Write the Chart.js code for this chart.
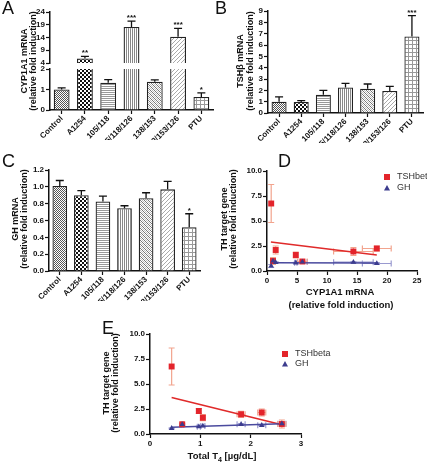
<!DOCTYPE html>
<html>
<head>
<meta charset="utf-8">
<script src="https://cdn.jsdelivr.net/npm/chart.js@4.4.1/dist/chart.umd.min.js"></script>
<style>
  html, body { margin: 0; padding: 0; background: #fff; }
  #page { position: relative; width: 427px; height: 464px; overflow: hidden; font-family: "Liberation Sans", Arial, sans-serif; color: #111; }
  #page canvas { position: absolute; left: 0; top: 0; }
  .lbl { position: absolute; white-space: nowrap; line-height: 1; z-index: 5; }
  .letter { font-size: 18px; }
  .ytitle { font-size: 9px; font-weight: bold; transform: translate(-50%, -50%) rotate(-90deg); }
  .xtitle { font-size: 9.5px; font-weight: bold; transform: translate(-50%, -50%); }
</style>
</head>
<body>
<div id="page">
  <canvas id="chartA1" width="427" height="464"></canvas>
  <canvas id="chartA2" width="427" height="464"></canvas>
  <canvas id="chartB" width="427" height="464"></canvas>
  <canvas id="chartC" width="427" height="464"></canvas>
  <canvas id="chartD" width="427" height="464"></canvas>
  <canvas id="chartE" width="427" height="464"></canvas>

  <div class="lbl letter" style="left:2px;top:-1px">A</div>
  <div class="lbl letter" style="left:215px;top:-1px">B</div>
  <div class="lbl letter" style="left:2px;top:152px">C</div>
  <div class="lbl letter" style="left:278px;top:152px">D</div>
  <div class="lbl letter" style="left:102px;top:319px">E</div>

  <div class="lbl ytitle" style="left:24px;top:61px">CYP1A1 mRNA</div>
  <div class="lbl ytitle" style="left:33px;top:61px">(relative fold induction)</div>
  <div class="lbl ytitle" style="left:240px;top:61px">TSHβ mRNA</div>
  <div class="lbl ytitle" style="left:250px;top:61px">(relative fold induction)</div>
  <div class="lbl ytitle" style="left:15px;top:219px">GH mRNA</div>
  <div class="lbl ytitle" style="left:24px;top:219px">(relative fold induction)</div>
  <div class="lbl ytitle" style="left:224px;top:219px">TH target gene</div>
  <div class="lbl ytitle" style="left:233px;top:219px">(relative fold induction)</div>
  <div class="lbl ytitle" style="left:106px;top:383px">TH target gene</div>
  <div class="lbl ytitle" style="left:115px;top:383px">(relative fold induction)</div>

  <div class="lbl xtitle" style="left:340px;top:292px">CYP1A1 mRNA</div>
  <div class="lbl xtitle" style="left:341px;top:305px">(relative fold induction)</div>
  <div class="lbl xtitle" style="left:222px;top:457px">Total T<sub style="font-size:7px">4</sub> [µg/dL]</div>
</div>

<script>
// treatment groups (bar panels A-C)
var groups = ['Control', 'A1254', '105/118', '105/118/126', '138/153', '138/153/126', 'PTU'];

var cypMean = [1.0, 5.8, 1.33, 18.1, 1.38, 14.3, 0.64];
var cypErr = [0.08, 0.8, 0.15, 2.3, 0.09, 3.3, 0.2];
var cypStars = ['', '**', '', '***', '', '***', '*'];
var cypTicksTop = [4, 9, 14, 19, 24];
var cypTicksBottom = [0, 1, 2];

var tshMean = [1.0, 0.97, 1.62, 2.25, 2.15, 1.94, 6.76];
var tshErr = [0.42, 0.12, 0.37, 0.36, 0.41, 0.41, 1.84];
var tshStars = ['', '', '', '', '', '', '***'];
var tshTicks = [0, 1, 2, 3, 4, 5, 6, 7, 8, 9];

var ghMean = [1.01, 0.9, 0.825, 0.745, 0.865, 0.97, 0.52];
var ghErr = [0.065, 0.055, 0.065, 0.03, 0.065, 0.095, 0.16];
var ghStars = ['', '', '', '', '', '', '*'];
var ghTicks = [0, 0.2, 0.4, 0.6, 0.8, 1.0, 1.2];

// panel D: target genes vs CYP1A1
var dCyp = [1.0, 0.7, 1.45, 4.8, 5.9, 14.4, 18.3];
var dCypErr = [0.1, 0.15, 0.15, 0.2, 0.8, 3.3, 2.4];
var dTsh = [1.0, 6.75, 2.1, 1.6, 0.95, 1.95, 2.25];
var dTshErr = [0.35, 1.9, 0.4, 0.3, 0.12, 0.4, 0.25];
var dGh = [1.0, 0.5, 0.85, 0.82, 0.9, 0.88, 0.75];
var dGhErr = [0.07, 0.15, 0.06, 0.05, 0.05, 0.06, 0.1];
var dTshFit = [[0.65, 2.9], [18.3, 1.6]];
var dGhFit = [[0.65, 0.82], [18.3, 0.8]];
var dTicksX = [0, 5, 10, 15, 20, 25];
var dTicksY = [0, 2.5, 5, 7.5, 10];

// panel E: target genes vs total T4
var eT4 = [0.43, 0.64, 0.97, 1.05, 1.81, 2.22, 2.62];
var eT4Err = [0.01, 0.02, 0.03, 0.04, 0.08, 0.08, 0.08];
var eTsh = [6.75, 0.97, 2.3, 1.63, 1.97, 2.15, 1.0];
var eTshErr = [1.85, 0.1, 0.25, 0.3, 0.3, 0.35, 0.4];
var eGh = [0.57, 0.95, 0.73, 0.8, 0.97, 0.87, 1.03];
var eGhErr = [0.05, 0.05, 0.05, 0.06, 0.06, 0.05, 0.1];
var eTshFit = [[0.43, 3.65], [2.6, 0.95]];
var eGhFit = [[0.43, 0.68], [2.62, 1.02]];
var eTicksX = [0, 1, 2, 3];
var eTicksY = [0, 2.5, 5, 7.5, 10];

var FONT = '"Liberation Sans", Arial, sans-serif';
var W = 427, H = 464, AXW = 40, AXH = 30;
var RED = '#e3242b', RED_LIGHT = '#f2a48e', BLUE = '#3c3c8e', BLUE_LIGHT = '#9a9ad0';

Chart.defaults.font.family = FONT;
Chart.defaults.color = '#111';
Chart.defaults.animation = false;

function makePattern(kind) {
    var c = document.createElement('canvas');
    var s = 4;
    c.width = s; c.height = s;
    var g = c.getContext('2d');
    g.fillStyle = '#fff';
    g.fillRect(0, 0, s, s);
    if (kind === 'dots') {
        g.fillStyle = '#555';
        g.fillRect(0, 0, 1, 1); g.fillRect(2, 0, 1, 1); g.fillRect(1, 1, 1, 1); g.fillRect(3, 1, 1, 1);
        g.fillRect(0, 2, 1, 1); g.fillRect(2, 2, 1, 1); g.fillRect(1, 3, 1, 1); g.fillRect(3, 3, 1, 1);
    } else if (kind === 'checker') {
        g.fillStyle = '#111';
        g.fillRect(0, 0, 2, 2); g.fillRect(2, 2, 2, 2);
    } else if (kind === 'hlines') {
        g.fillStyle = '#999';
        g.fillRect(0, 0, s, 1); g.fillRect(0, 2, s, 1);
    } else if (kind === 'vlines') {
        g.fillStyle = '#888';
        g.fillRect(0, 0, 1, s); g.fillRect(2, 0, 1, s);
    } else if (kind === 'diag') {
        g.fillStyle = '#777';
        for (var i = 0; i < s; i++) g.fillRect(i, i, 1, 1);
        g.fillStyle = '#bbb';
        g.fillRect(2, 0, 1, 1); g.fillRect(3, 1, 1, 1); g.fillRect(0, 2, 1, 1); g.fillRect(1, 3, 1, 1);
    } else if (kind === 'diagLight') {
        g.fillStyle = '#aaa';
        for (var j = 0; j < s; j++) g.fillRect(s - 1 - j, j, 1, 1);
    } else if (kind === 'grid') {
        g.fillStyle = '#999';
        g.fillRect(0, 0, s, 1); g.fillRect(0, 0, 1, s);
    }
    return g.createPattern(c, 'repeat');
}

var barFills = ['dots', 'checker', 'hlines', 'vlines', 'diag', 'diagLight', 'grid'].map(makePattern);

// error bars (bars: upward only; scatter: both directions) and significance stars
var errorBarPlugin = {
    id: 'errorBars',
    beforeDatasetsDraw: function(chart) {
        var ctx = chart.ctx;
        var xs = chart.scales.x, ys = chart.scales.y;
        chart.data.datasets.forEach(function(ds) {
            if (!ds.yErr) return;
            ctx.save();
            ctx.strokeStyle = ds.errColor;
            ctx.lineWidth = 1.2;
            ds.data.forEach(function(p, j) {
                var px = xs.getPixelForValue(p.x), py = ys.getPixelForValue(p.y);
                var y1 = ys.getPixelForValue(p.y - ds.yErr[j]), y2 = ys.getPixelForValue(p.y + ds.yErr[j]);
                var x1 = xs.getPixelForValue(p.x - ds.xErr[j]), x2 = xs.getPixelForValue(p.x + ds.xErr[j]);
                ctx.beginPath();
                ctx.moveTo(px, y1); ctx.lineTo(px, y2);
                ctx.moveTo(px - 3, y1); ctx.lineTo(px + 3, y1);
                ctx.moveTo(px - 3, y2); ctx.lineTo(px + 3, y2);
                if (x2 - x1 > 2) {
                    ctx.moveTo(x1, py); ctx.lineTo(x2, py);
                    ctx.moveTo(x1, py - 3); ctx.lineTo(x1, py + 3);
                    ctx.moveTo(x2, py - 3); ctx.lineTo(x2, py + 3);
                }
                ctx.stroke();
            });
            ctx.restore();
        });
    },
    afterDatasetsDraw: function(chart) {
        var ctx = chart.ctx;
        var ys = chart.scales.y;
        var area = chart.chartArea;
        chart.data.datasets.forEach(function(ds, i) {
            if (!ds.errUp) return;
            var meta = chart.getDatasetMeta(i);
            meta.data.forEach(function(bar, j) {
                var v = ds.data[j], top = v + ds.errUp[j];
                var py = ys.getPixelForValue(v), pt = ys.getPixelForValue(top);
                ctx.save();
                ctx.beginPath();
                ctx.rect(area.left, area.top - 1, area.right - area.left, area.bottom - area.top + 1);
                ctx.clip();
                ctx.strokeStyle = '#111';
                ctx.lineWidth = 1.3;
                ctx.beginPath();
                ctx.moveTo(bar.x, py); ctx.lineTo(bar.x, pt);
                ctx.moveTo(bar.x - 4, pt); ctx.lineTo(bar.x + 4, pt);
                ctx.stroke();
                ctx.restore();
                if (ds.stars && ds.stars[j] && top >= ys.min && top <= ys.max) {
                    ctx.save();
                    ctx.fillStyle = '#111';
                    ctx.font = 'bold 8px ' + FONT;
                    ctx.textAlign = 'center';
                    ctx.textBaseline = 'alphabetic';
                    ctx.fillText(ds.stars[j], bar.x, pt - 1);
                    ctx.restore();
                }
            });
        });
    }
};

// small legend for the scatter panels
var miniLegendPlugin = {
    id: 'miniLegend',
    afterDraw: function(chart, args, opts) {
        if (!opts || !opts.items) return;
        var ctx = chart.ctx;
        ctx.save();
        ctx.font = '9px ' + FONT;
        ctx.textBaseline = 'middle';
        ctx.textAlign = 'left';
        opts.items.forEach(function(it, k) {
            var x = opts.x, y = opts.y + k * opts.gap;
            ctx.fillStyle = it.color;
            if (it.shape === 'rect') {
                ctx.fillRect(x - 3, y - 3, 6, 6);
            } else {
                ctx.beginPath();
                ctx.moveTo(x, y - 3); ctx.lineTo(x + 3, y + 2.5); ctx.lineTo(x - 3, y + 2.5);
                ctx.closePath();
                ctx.fill();
            }
            ctx.fillStyle = '#333';
            ctx.fillText(it.label, x + 10, y);
        });
        ctx.restore();
    }
};

function fixedTicks(list) {
    return function(scale) {
        scale.ticks = list.map(function(v) { return { value: v }; });
    };
}

function yAxis(min, max, ticks, digits) {
    return {
        min: min, max: max,
        afterFit: function(s) { s.width = AXW; },
        afterBuildTicks: fixedTicks(ticks),
        grid: { drawOnChartArea: false, drawTicks: true, tickLength: 4, tickColor: '#111', tickWidth: 1.2 },
        border: { color: '#111', width: 1.5 },
        ticks: {
            autoSkip: false, padding: 1, color: '#111',
            font: { size: 8, weight: 'bold' },
            callback: function(v) { return digits ? Number(v).toFixed(digits) : String(v); }
        }
    };
}

function catAxis(show) {
    return {
        display: show,
        afterFit: function(s) { s.height = show ? AXH : 0; },
        grid: { drawOnChartArea: false, offset: false, drawTicks: true, tickLength: 4, tickColor: '#111', tickWidth: 1.2 },
        border: { color: '#111', width: 1.5 },
        ticks: { autoSkip: false, minRotation: 45, maxRotation: 45, padding: 0, color: '#111', font: { size: 8, weight: 'bold' } }
    };
}

function linAxis(min, max, ticks) {
    return {
        type: 'linear', min: min, max: max,
        afterFit: function(s) { s.height = AXH; },
        afterBuildTicks: fixedTicks(ticks),
        grid: { drawOnChartArea: false, drawTicks: true, tickLength: 4, tickColor: '#111', tickWidth: 1.2 },
        border: { color: '#111', width: 1.5 },
        ticks: { autoSkip: false, padding: 1, color: '#111', font: { size: 8, weight: 'bold' } }
    };
}

function plotPadding(left, top, right, bottom, hasX) {
    return { left: left - AXW, top: top, right: W - right, bottom: H - bottom - (hasX ? AXH : 0) };
}

function barChart(id, box, values, errs, stars, yMin, yMax, ticks, digits, showX) {
    return new Chart(document.getElementById(id), {
        type: 'bar',
        data: {
            labels: groups,
            datasets: [{
                data: values,
                errUp: errs,
                stars: stars,
                backgroundColor: barFills,
                borderColor: '#222',
                borderWidth: 1.3,
                barPercentage: 0.68,
                categoryPercentage: 1,
                clip: 0
            }]
        },
        options: {
            responsive: false,
            devicePixelRatio: 1,
            layout: { padding: plotPadding(box[0], box[1], box[2], box[3], showX) },
            plugins: { legend: { display: false }, tooltip: { enabled: false } },
            scales: { x: catAxis(showX), y: yAxis(yMin, yMax, ticks, digits) }
        },
        plugins: [errorBarPlugin]
    });
}

function points(xs, ys) {
    return xs.map(function(x, i) { return { x: x, y: ys[i] }; });
}

function fitLine(pairs) {
    return pairs.map(function(p) { return { x: p[0], y: p[1] }; });
}

function scatterChart(id, box, xv, xErr, tsh, tshErr, gh, ghErr, tshFit, ghFit, xMax, xTicks, yTicks, legendPos) {
    return new Chart(document.getElementById(id), {
        type: 'scatter',
        data: {
            datasets: [{
                label: 'GH',
                data: points(xv, gh), xErr: xErr, yErr: ghErr, errColor: BLUE_LIGHT,
                pointStyle: 'triangle', pointRadius: 3.2, backgroundColor: BLUE, borderColor: BLUE, borderWidth: 0
            }, {
                label: 'TSHbeta',
                data: points(xv, tsh), xErr: xErr, yErr: tshErr, errColor: RED_LIGHT,
                pointStyle: 'rect', pointRadius: 4.2, backgroundColor: RED, borderColor: RED, borderWidth: 0
            }, {
                type: 'line', data: fitLine(ghFit), showLine: true, pointRadius: 0,
                borderColor: '#4a4a9e', borderWidth: 1.6
            }, {
                type: 'line', data: fitLine(tshFit), showLine: true, pointRadius: 0,
                borderColor: '#e02a2a', borderWidth: 1.6
            }]
        },
        options: {
            responsive: false,
            devicePixelRatio: 1,
            layout: { padding: plotPadding(box[0], box[1], box[2], box[3], true) },
            plugins: {
                legend: { display: false },
                tooltip: { enabled: false },
                miniLegend: {
                    x: legendPos[0], y: legendPos[1], gap: legendPos[2],
                    items: [{ label: 'TSHbeta', color: RED, shape: 'rect' }, { label: 'GH', color: BLUE, shape: 'tri' }]
                }
            },
            scales: { x: linAxis(0, xMax, xTicks), y: yAxis(0, 10, yTicks, 1) }
        },
        plugins: [errorBarPlugin, miniLegendPlugin]
    });
}

// A: broken y axis, drawn as two stacked charts
barChart('chartA1', [50, 12, 213, 63], cypMean, cypErr, cypStars, 4, 24, cypTicksTop, 0, false);
barChart('chartA2', [50, 69, 213, 110], cypMean, cypErr, cypStars, 0, 2, cypTicksBottom, 0, true);
barChart('chartB', [268, 11, 423, 113], tshMean, tshErr, tshStars, 0, 9, tshTicks, 0, true);
barChart('chartC', [49, 170, 200, 271], ghMean, ghErr, ghStars, 0, 1.2, ghTicks, 1, true);

scatterChart('chartD', [267, 171, 417, 271], dCyp, dCypErr, dTsh, dTshErr, dGh, dGhErr, dTshFit, dGhFit,
    25, dTicksX, dTicksY, [387, 177, 11]);
scatterChart('chartE', [150, 334, 301, 434], eT4, eT4Err, eTsh, eTshErr, eGh, eGhErr, eTshFit, eGhFit,
    3, eTicksX, eTicksY, [285, 354, 10]);
</script>
</body>
</html>
